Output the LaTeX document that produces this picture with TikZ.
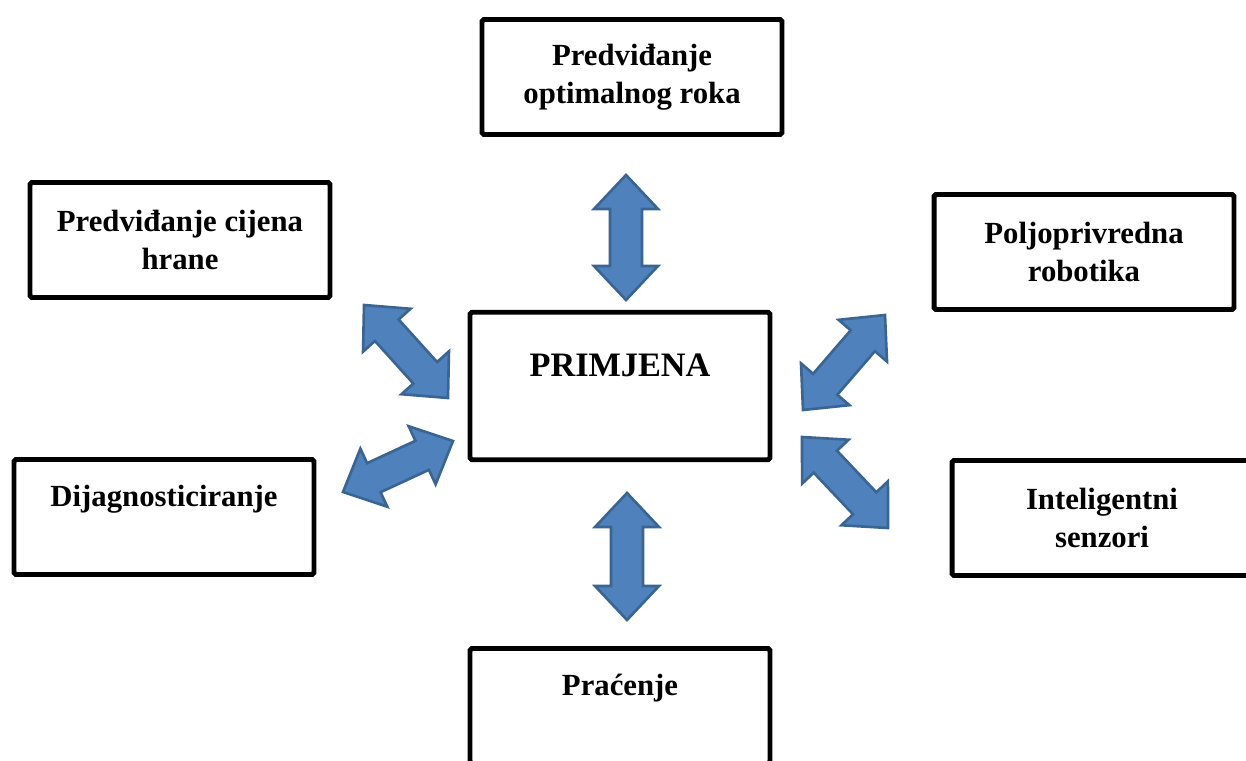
\documentclass[tikz,border=0pt]{standalone}
\usepackage{fontspec}
\setmainfont{Liberation Serif}
\usetikzlibrary{calc}

\definecolor{arrfill}{HTML}{4F81BD}
\definecolor{arrline}{HTML}{3A6592}

% block arrow with a head on both ends
\newcommand{\arrhead}{0.68cm}
\newcommand{\arrhw}{0.64cm}
\newcommand{\arrsw}{0.32cm}
\newcommand{\dblarrow}[2]{%
  \coordinate (ha) at ($(#1)!\arrhead!(#2)$);
  \coordinate (hb) at ($(#2)!\arrhead!(#1)$);
  \filldraw[bigarrow] (#1) -- ($(ha)!\arrhw!90:(#2)$) -- ($(ha)!\arrsw!90:(#2)$)
    -- ($(hb)!\arrsw!-90:(#1)$) -- ($(hb)!\arrhw!-90:(#1)$) -- (#2)
    -- ($(hb)!\arrhw!90:(#1)$) -- ($(hb)!\arrsw!90:(#1)$)
    -- ($(ha)!\arrsw!-90:(#2)$) -- ($(ha)!\arrhw!-90:(#2)$) -- cycle;
}

\begin{document}
\begin{tikzpicture}[
    x=0.02cm, y=-0.02cm,
    box/.style={rectangle, draw=black, line width=2.8pt, rounded corners=1pt, minimum width=6cm, minimum height=2.3cm, align=center, font=\fontsize{17.5}{21.5}\selectfont\bfseries},
    oneline/.style={text depth=0.85cm},
    bigarrow/.style={fill=arrfill, draw=arrline, line width=1.5pt, line join=miter}
]
\useasboundingbox (0,0) rectangle (1246,760);

\node (prim) [box, minimum height=2.95cm, oneline, font=\fontsize{19.5}{23}\selectfont\bfseries] at (620,386) {PRIMJENA};
\node (rok) [box] at (632,77) {Predviđanje\\optimalnog roka};
\node (cijene) [box] at (180,240) {Predviđanje cijena\\hrane};
\node (robot) [box] at (1084,252) {Poljoprivredna\\robotika};
\node (dijag) [box, oneline] at (164,517) {Dijagnosticiranje};
\node (senzor) [box] at (1102,518) {Inteligentni\\senzori};
\node (pracenje) [box, oneline] at (620,706) {Praćenje};

% arrow ends
\coordinate (rokA) at (626,175);
\coordinate (rokB) at (626,300);
\coordinate (pracA) at (627,493);
\coordinate (pracB) at (627,620);
\coordinate (cijA) at (364,305);
\coordinate (cijB) at (448,398);
\coordinate (dijA) at (343,492);
\coordinate (dijB) at (453,441);
\coordinate (robA) at (885,315);
\coordinate (robB) at (803,410);
\coordinate (senA) at (802,437);
\coordinate (senB) at (888,528);

\dblarrow{rokA}{rokB}
\dblarrow{pracA}{pracB}
\dblarrow{cijA}{cijB}
\dblarrow{dijA}{dijB}
\dblarrow{robA}{robB}
\dblarrow{senA}{senB}

\end{tikzpicture}
\end{document}
